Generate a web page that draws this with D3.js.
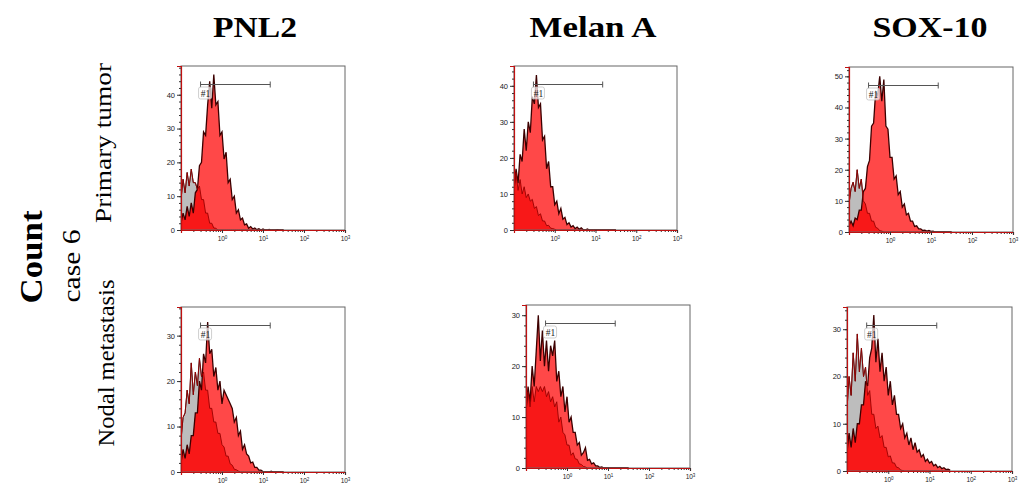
<!DOCTYPE html>
<html>
<head>
  <meta charset="utf-8">
  <title>flow histograms case 6</title>
  <script src="https://cdn.jsdelivr.net/npm/d3@7"></script>
  <style>
    body { margin: 0; background: #fff; }
    svg text { font-family: "Liberation Serif", serif; }
    .tick text { font-family: "Liberation Sans", sans-serif; }
  </style>
</head>
<body>
<svg id="chart" width="1027" height="483"></svg>
<script>
// markers and samples
var markers = ["PNL2", "Melan A", "SOX-10"]
var samples = ["Primary tumor", "Nodal metastasis"]

// histogram channels, log10 of intensity (bin centres)
var channelLog = [-1.00, -0.95, -0.90, -0.85, -0.80, -0.75, -0.70, -0.65, -0.60, -0.55,
  -0.50, -0.45, -0.40, -0.35, -0.30, -0.25, -0.20, -0.15, -0.10, -0.05,
  0.00, 0.05, 0.10, 0.15, 0.20, 0.25, 0.30, 0.35, 0.40, 0.45,
  0.50, 0.55, 0.60, 0.65, 0.70, 0.75, 0.80, 0.85, 0.90, 0.95,
  1.00, 1.05, 1.10, 1.15, 1.20, 1.25, 1.30, 1.35, 1.40, 1.45, 1.50]

// counts, stained sample (red) and control (grey)
var pnl2PrimaryStained = [2, 5, 3, 7, 4, 8, 5, 11, 12, 19,
  20, 29, 28, 37, 44, 36, 46, 37, 38, 28,
  29, 21, 23, 14, 15, 9, 10, 5, 6, 3,
  3.5, 1.5, 1.8, 0.5, 1, 0.3, 0.6, 0.1, 0.4, 0,
  0.3, 0, 0, 0.2, 0, 0, 0, 0.1, 0, 0, 0]
var pnl2PrimaryControl = [9, 15, 11, 17, 13, 18, 14, 14, 12, 13,
  9, 9, 5, 5, 2, 2, 0.6, 0.5, 0, 0,
  0, 0, 0, 0, 0, 0, 0, 0, 0, 0,
  0, 0, 0, 0, 0, 0, 0, 0, 0, 0,
  0, 0, 0, 0, 0, 0, 0, 0, 0, 0, 0]

var melanPrimaryStained = [11, 17, 13, 21, 19, 28, 22, 30, 27, 37,
  35, 43, 34, 35, 25, 26, 17, 19, 12, 12,
  7, 8, 4.5, 6, 3, 3.5, 1.5, 2, 0.8, 1.2,
  0.4, 0.8, 0.2, 0.6, 0.1, 0, 0.3, 0, 0, 0,
  0, 0, 0, 0, 0, 0, 0, 0, 0, 0, 0]
var melanPrimaryControl = [12, 16, 11, 14, 10, 12, 9, 10, 8, 8.5,
  6, 6.5, 4, 4.5, 2.5, 2.5, 1.2, 1.3, 0.5, 0.4,
  0.2, 0, 0, 0, 0, 0, 0, 0, 0, 0,
  0, 0, 0, 0, 0, 0, 0, 0, 0, 0,
  0, 0, 0, 0, 0, 0, 0, 0, 0, 0, 0]

var soxPrimaryStained = [2, 3.5, 2, 4.5, 4, 7, 7, 13, 14, 21,
  23, 34, 35, 45, 44, 50, 42, 49, 34, 33,
  24, 24, 17, 18, 12, 13, 8, 9, 5.5, 6,
  3.5, 3.5, 1.8, 2, 1, 1, 0.5, 0.6, 0.3, 0.5,
  0.2, 0.3, 0, 0, 0, 0, 0, 0, 0, 0, 0]
var soxPrimaryControl = [9, 14, 16, 13, 20, 14, 17, 10, 9, 6,
  6, 3.5, 3.5, 1.5, 1.2, 0.4, 0.3, 0, 0, 0,
  0, 0, 0, 0, 0, 0, 0, 0, 0, 0,
  0, 0, 0, 0, 0, 0, 0, 0, 0, 0,
  0, 0, 0, 0, 0, 0, 0, 0, 0, 0, 0]

var pnl2NodalStained = [2, 5, 3, 6, 4, 8, 8, 13, 13, 20,
  18, 26, 24, 33, 26, 27, 21, 23, 18, 20,
  15, 18, 17, 16, 15, 14, 11, 12, 8, 9,
  5, 6, 4, 3.5, 2, 2.2, 1, 1, 0.4, 0.4,
  0.1, 0, 0, 0, 0.2, 0, 0, 0, 0, 0, 0]
var pnl2NodalControl = [7, 12, 13, 18, 15, 24, 17, 22, 19, 25,
  21, 22, 18, 18, 14, 14, 11, 11, 8.5, 8.5,
  6, 5.5, 3.5, 3.5, 1.8, 1.5, 0.6, 0.5, 0.2, 0,
  0, 0, 0, 0, 0, 0, 0, 0, 0, 0,
  0, 0, 0, 0, 0, 0, 0, 0, 0, 0, 0]

var melanNodalStained = [11, 16, 13, 20, 16, 23, 30, 21, 27, 20,
  25, 19, 24, 22, 25, 17, 19, 14, 16, 11,
  14, 9, 10, 7, 7, 4.5, 5, 2.5, 3, 4,
  1.5, 1.7, 0.8, 1, 0.4, 0.4, 0.1, 0.2, 0, 0,
  0, 0, 0, 0, 0, 0, 0, 0, 0, 0, 0]
var melanNodalControl = [12, 15, 12, 16, 13, 16, 15, 16, 15, 16,
  14, 15, 13, 14, 12, 13, 9, 10, 7, 6.5,
  4.5, 4.5, 2.5, 3, 1.8, 1.7, 0.8, 0.7, 0.3, 0.2,
  0, 0, 0, 0, 0, 0, 0, 0, 0, 0,
  0, 0, 0, 0, 0, 0, 0, 0, 0, 0, 0]

var soxNodalStained = [4, 8, 5, 9, 6, 10, 10, 14, 14, 19,
  18, 24, 26, 33, 23, 28, 21, 25, 19, 22,
  16, 19, 14, 16, 12, 12, 9, 10, 7, 8,
  5.5, 7, 4.5, 6, 4, 4.5, 3, 3.5, 2, 2.5,
  1.7, 2, 1.1, 1.4, 0.7, 1, 0.5, 0.7, 0.3, 0.4, 0.2]
var soxNodalControl = [13, 20, 16, 25, 19, 29, 21, 26, 20, 22,
  16, 17, 12, 12, 9, 9.5, 7, 7.5, 5, 5,
  3, 3.2, 1.7, 1.7, 0.8, 0.7, 0.2, 0.1, 0, 0,
  0, 0, 0, 0, 0, 0, 0, 0, 0, 0,
  0, 0, 0, 0, 0, 0, 0, 0, 0, 0, 0]

// axis ranges and ticks
var yMax = [48.5, 45.5, 53, 36.3, 32, 34.7]
var yTicks = [[0, 10, 20, 30, 40], [0, 10, 20, 30, 40], [0, 10, 20, 30, 40, 50],
  [0, 10, 20, 30], [0, 10, 20, 30], [0, 10, 20, 30]]
var xDecades = [0.1, 1, 10, 100, 1000]
var xLabelExp = ["0", "1", "2", "3"]
var gateRange = [0.3, 15]
var gateName = "#1"

var stainedSets = [pnl2PrimaryStained, melanPrimaryStained, soxPrimaryStained,
  pnl2NodalStained, melanNodalStained, soxNodalStained]
var controlSets = [pnl2PrimaryControl, melanPrimaryControl, soxPrimaryControl,
  pnl2NodalControl, melanNodalControl, soxNodalControl]

// panel boxes on the page
var boxes = [
  { x: 181, y: 66, w: 164, h: 164 },
  { x: 514, y: 66, w: 163, h: 164 },
  { x: 849, y: 67, w: 164, h: 165 },
  { x: 181, y: 307, w: 164, h: 165 },
  { x: 526, y: 305, w: 164, h: 163 },
  { x: 847, y: 307, w: 165, h: 164 }
]

var svg = d3.select("#chart")

// column headers
var headerX = [255, 593, 930]
var headerLen = [84, 127, 115]
markers.forEach((m, i) => {
  svg.append("text")
    .attr("x", headerX[i]).attr("y", 37)
    .attr("text-anchor", "middle")
    .attr("font-size", 30).attr("font-weight", "bold")
    .attr("textLength", headerLen[i]).attr("lengthAdjust", "spacingAndGlyphs")
    .text(m)
})

// side labels
function sideLabel(txt, x, y, size, bold, len) {
  var t = svg.append("text")
    .attr("transform", "translate(" + x + "," + y + ") rotate(-90)")
    .attr("text-anchor", "middle")
    .attr("font-size", size)
    .attr("font-weight", bold ? "bold" : "normal")
    .text(txt)
  if (len) t.attr("textLength", len).attr("lengthAdjust", "spacingAndGlyphs")
}
sideLabel("Count", 42, 257, 31, true, 93)
sideLabel("case 6", 80, 266, 25, false, 73)
sideLabel(samples[0], 111, 143, 24, false, 160)
sideLabel(samples[1], 114, 363, 24, false, 167)

var minorX = []
xDecades.slice(0, 4).forEach(d => { for (var k = 2; k < 10; k++) minorX.push(d * k) })

boxes.forEach((b, i) => {
  var stained = stainedSets[i]
  var control = controlSets[i]
  var g = svg.append("g").attr("transform", "translate(" + b.x + "," + b.y + ")")

  var x = d3.scaleLog().domain([0.1, 1000]).range([0, b.w])
  var y = d3.scaleLinear().domain([0, yMax[i]]).range([b.h, 0])

  var pts = channelLog.map((c, j) => ({ v: Math.pow(10, c), s: stained[j], c: control[j] }))
  var areaOf = key => d3.area().x(d => x(d.v)).y0(b.h).y1(d => y(d[key]))
  var lineOf = key => d3.line().x(d => x(d.v)).y(d => y(d[key]))

  var clipId = "clip" + i
  g.append("clipPath").attr("id", clipId)
    .append("rect").attr("width", b.w).attr("height", b.h)
  var plot = g.append("g").attr("clip-path", "url(#" + clipId + ")")

  // control histogram (grey)
  plot.append("path").datum(pts)
    .attr("d", areaOf("c"))
    .attr("fill", "#bdbdbd")
  plot.append("path").datum(pts)
    .attr("d", lineOf("c"))
    .attr("fill", "none").attr("stroke", "#2a2a2a").attr("stroke-width", 1)

  // stained histogram (red)
  plot.append("path").datum(pts)
    .attr("d", areaOf("s"))
    .attr("fill", "#ff4848")
  // overlap of both
  var overlap = pts.map(d => ({ v: d.v, m: Math.min(d.s, d.c) }))
  plot.append("path").datum(overlap)
    .attr("d", areaOf("m"))
    .attr("fill", "#f81818")
  plot.append("path").datum(pts)
    .attr("d", lineOf("s"))
    .attr("fill", "none").attr("stroke", "#3c0000").attr("stroke-width", 1.3)
  plot.append("path").datum(pts)
    .attr("d", lineOf("c"))
    .attr("fill", "none").attr("stroke", "#990000").attr("stroke-width", 0.9)

  // frame
  g.append("rect").attr("width", b.w).attr("height", b.h)
    .attr("fill", "none").attr("stroke", "#666").attr("stroke-width", 1)

  // y axis
  var yMinor = d3.range(0, yMax[i], 2)
  g.append("g").call(d3.axisLeft(y).tickValues(yMinor).tickSize(2).tickFormat(""))
    .call(a => a.select(".domain").remove())
    .selectAll("line").attr("stroke", "#333")
  var ya = g.append("g").call(d3.axisLeft(y).tickValues(yTicks[i]).tickSize(4).tickPadding(2))
  ya.select(".domain").attr("stroke", "#c01010").attr("stroke-width", 1.2)
  ya.selectAll("line").attr("stroke", "#333")
  ya.selectAll("text").attr("font-size", 7.5).attr("fill", "#222")

  // x axis
  var xg = g.append("g").attr("transform", "translate(0," + b.h + ")")
  xg.append("g").call(d3.axisBottom(x).tickValues(minorX).tickSize(2).tickFormat(""))
    .call(a => a.select(".domain").remove())
    .selectAll("line").attr("stroke", "#333")
  var xa = xg.append("g").call(d3.axisBottom(x).tickValues(xDecades.slice(1)).tickSize(3).tickPadding(2).tickFormat(""))
  xa.select(".domain").attr("stroke", "#c01010").attr("stroke-width", 1.2)
  xa.selectAll("line").attr("stroke", "#333")
  xa.selectAll(".tick").each(function (d, k) {
    var t = d3.select(this).append("text")
      .attr("y", 11).attr("text-anchor", "middle")
      .attr("font-size", 6.5).attr("fill", "#222")
      .attr("font-family", "Liberation Sans, sans-serif")
    t.append("tspan").text("10")
    t.append("tspan").attr("dy", -2.5).attr("font-size", 4.5).text(xLabelExp[k])
  })

  // gate
  var gy = Math.round(b.h * 0.108) + 0.5
  var gx0 = x(gateRange[0]), gx1 = x(gateRange[1])
  var gate = g.append("g").attr("stroke", "#555").attr("stroke-width", 1)
  gate.append("line").attr("x1", gx0).attr("x2", gx1).attr("y1", gy).attr("y2", gy)
  gate.append("line").attr("x1", gx0).attr("x2", gx0).attr("y1", gy - 3).attr("y2", gy + 3)
  gate.append("line").attr("x1", gx1).attr("x2", gx1).attr("y1", gy - 3).attr("y2", gy + 3)
  g.append("rect").attr("x", gx0 - 2).attr("y", gy + 2.5).attr("width", 13).attr("height", 12)
    .attr("rx", 2).attr("fill", "rgba(255,255,255,0.7)").attr("stroke", "#bbb").attr("stroke-width", 0.7)
  g.append("text").attr("x", gx0 + 0.2).attr("y", gy + 12)
    .attr("font-size", 9.5).attr("fill", "#222")
    .attr("font-family", "Liberation Sans, sans-serif")
    .text(gateName)
})
</script>
</body>
</html>
